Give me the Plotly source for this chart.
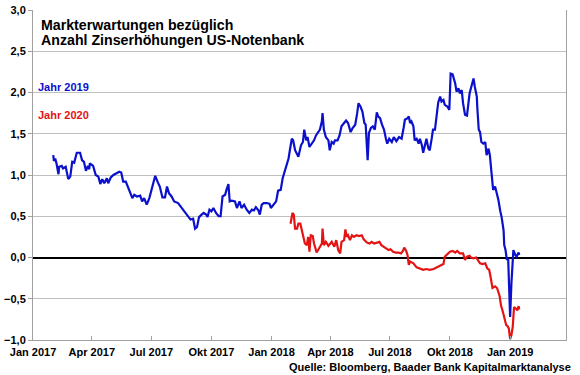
import plotly.graph_objects as go

# ---- data ----
dates_2019 = [
    "2017-02-01", "2017-02-02", "2017-02-04", "2017-02-06", "2017-02-09", "2017-02-10", "2017-02-14", "2017-02-16",
    "2017-02-20", "2017-02-24", "2017-02-27", "2017-03-02", "2017-03-05", "2017-03-09", "2017-03-14", "2017-03-17",
    "2017-03-20", "2017-03-23", "2017-03-26", "2017-03-28", "2017-03-29", "2017-04-03", "2017-04-07", "2017-04-11",
    "2017-04-14", "2017-04-17", "2017-04-20", "2017-04-24", "2017-04-26", "2017-04-30", "2017-05-04", "2017-05-08",
    "2017-05-13", "2017-05-16", "2017-05-19", "2017-05-23", "2017-05-26", "2017-05-31", "2017-06-02", "2017-06-05",
    "2017-06-09", "2017-06-14", "2017-06-17", "2017-06-20", "2017-06-24", "2017-06-28", "2017-07-01", "2017-07-04",
    "2017-07-07", "2017-07-11", "2017-07-14", "2017-07-18", "2017-07-22", "2017-07-25", "2017-07-28", "2017-08-01",
    "2017-08-05", "2017-08-11", "2017-08-17", "2017-08-22", "2017-08-27", "2017-08-30", "2017-09-03", "2017-09-06",
    "2017-09-09", "2017-09-12", "2017-09-16", "2017-09-19", "2017-09-23", "2017-09-25", "2017-09-28", "2017-10-01",
    "2017-10-04", "2017-10-08", "2017-10-12", "2017-10-15", "2017-10-18", "2017-10-22", "2017-10-24", "2017-10-27",
    "2017-10-29", "2017-11-01", "2017-11-06", "2017-11-09", "2017-11-13", "2017-11-16", "2017-11-20", "2017-11-24",
    "2017-11-28", "2017-12-02", "2017-12-05", "2017-12-08", "2017-12-12", "2017-12-14", "2017-12-17", "2017-12-20",
    "2017-12-25", "2017-12-29", "2017-12-31", "2018-01-04", "2018-01-08", "2018-01-11", "2018-01-15", "2018-01-18",
    "2018-01-22", "2018-01-24", "2018-01-27", "2018-01-29", "2018-02-01", "2018-02-03", "2018-02-06", "2018-02-11",
    "2018-02-15", "2018-02-18", "2018-02-20", "2018-02-23", "2018-02-25", "2018-02-28", "2018-03-03", "2018-03-07",
    "2018-03-10", "2018-03-14", "2018-03-16", "2018-03-19", "2018-03-20", "2018-03-22", "2018-03-25", "2018-03-29",
    "2018-03-31", "2018-04-03", "2018-04-06", "2018-04-08", "2018-04-12", "2018-04-15", "2018-04-18", "2018-04-22",
    "2018-04-25", "2018-04-28", "2018-05-02", "2018-05-05", "2018-05-09", "2018-05-12", "2018-05-14", "2018-05-17",
    "2018-05-20", "2018-05-23", "2018-05-25", "2018-05-28", "2018-05-30", "2018-06-02", "2018-06-05", "2018-06-08",
    "2018-06-11", "2018-06-13", "2018-06-16", "2018-06-19", "2018-06-22", "2018-06-25", "2018-06-27", "2018-06-30",
    "2018-07-04", "2018-07-07", "2018-07-11", "2018-07-15", "2018-07-19", "2018-07-22", "2018-07-24", "2018-07-28",
    "2018-07-30", "2018-08-01", "2018-08-03", "2018-08-06", "2018-08-08", "2018-08-11", "2018-08-14", "2018-08-16",
    "2018-08-19", "2018-08-21", "2018-08-24", "2018-08-26", "2018-08-29", "2018-08-31", "2018-09-03", "2018-09-05",
    "2018-09-08", "2018-09-11", "2018-09-13", "2018-09-16", "2018-09-18", "2018-09-21", "2018-09-23", "2018-09-27",
    "2018-09-30", "2018-10-02", "2018-10-05", "2018-10-09", "2018-10-11", "2018-10-14", "2018-10-16", "2018-10-19",
    "2018-10-21", "2018-10-24", "2018-10-27", "2018-10-31", "2018-11-03", "2018-11-06", "2018-11-08", "2018-11-11",
    "2018-11-12", "2018-11-14", "2018-11-16", "2018-11-18", "2018-11-21", "2018-11-24", "2018-11-26", "2018-11-29",
    "2018-12-01", "2018-12-04", "2018-12-05", "2018-12-06", "2018-12-09", "2018-12-12", "2018-12-14", "2018-12-17",
    "2018-12-19", "2018-12-22", "2018-12-23", "2018-12-25", "2018-12-27", "2018-12-29", "2019-01-01", "2019-01-03",
    "2019-01-04", "2019-01-06", "2019-01-09", "2019-01-11", "2019-01-14", "2019-01-15",
]
values_2019 = [
    1.24, 1.17, 1.20, 1.14, 1.01, 1.10, 1.11, 1.08,
    1.10, 0.95, 0.98, 1.16, 1.15, 1.27, 1.27, 1.18,
    1.16, 1.05, 1.11, 1.07, 1.14, 1.11, 1.00, 0.98,
    0.89, 0.95, 0.90, 0.96, 0.90, 0.97, 1.00, 1.02,
    1.04, 1.03, 0.92, 0.92, 0.86, 0.78, 0.72, 0.76,
    0.74, 0.75, 0.68, 0.72, 0.64, 0.72, 0.82, 0.90,
    0.99, 0.91, 0.86, 0.73, 0.73, 0.86, 0.78, 0.74,
    0.68, 0.66, 0.60, 0.54, 0.49, 0.46, 0.47, 0.35,
    0.37, 0.49, 0.52, 0.54, 0.52, 0.49, 0.58, 0.56,
    0.60, 0.54, 0.50, 0.50, 0.74, 0.76, 0.82, 0.89,
    0.68, 0.69, 0.68, 0.60, 0.68, 0.60, 0.64, 0.58,
    0.54, 0.58, 0.57, 0.61, 0.57, 0.52, 0.64, 0.66,
    0.66, 0.65, 0.60, 0.64, 0.68, 0.81, 0.82, 0.96,
    1.07, 1.12, 1.20, 1.30, 1.44, 1.42, 1.30, 1.22,
    1.36, 1.40, 1.55, 1.42, 1.46, 1.34, 1.38, 1.42,
    1.48, 1.52, 1.55, 1.65, 1.75, 1.55, 1.46, 1.42,
    1.30, 1.40, 1.38, 1.42, 1.42, 1.48, 1.59, 1.63,
    1.66, 1.63, 1.52, 1.57, 1.61, 1.75, 1.87, 1.83,
    1.77, 1.63, 1.61, 1.18, 1.51, 1.57, 1.59, 1.55,
    1.76, 1.71, 1.69, 1.61, 1.55, 1.44, 1.38, 1.44,
    1.40, 1.46, 1.41, 1.46, 1.44, 1.57, 1.67, 1.69,
    1.71, 1.63, 1.65, 1.59, 1.42, 1.44, 1.38, 1.44,
    1.36, 1.27, 1.38, 1.44, 1.32, 1.30, 1.44, 1.55,
    1.55, 1.79, 1.88, 1.95, 1.89, 1.91, 1.85, 1.83,
    1.79, 2.23, 2.22, 2.11, 2.01, 2.05, 1.99, 2.03,
    1.87, 1.73, 1.72, 1.99, 2.09, 2.17, 2.07, 1.95,
    1.79, 1.55, 1.52, 1.40, 1.38, 1.40, 1.24, 1.32,
    1.24, 1.02, 0.90, 0.82, 0.86, 0.76, 0.70, 0.56,
    0.49, 0.33, 0.15, 0.09, -0.03, -0.01, -0.72, -0.31,
    -0.11, 0.09, 0.03, 0.01, 0.06, 0.03,
]

dates_2020 = [
    "2018-01-30", "2018-02-02", "2018-02-04", "2018-02-06", "2018-02-09", "2018-02-11", "2018-02-14", "2018-02-18",
    "2018-02-21", "2018-02-24", "2018-02-26", "2018-02-28", "2018-03-02", "2018-03-05", "2018-03-07", "2018-03-11",
    "2018-03-15", "2018-03-19", "2018-03-20", "2018-03-22", "2018-03-25", "2018-03-29", "2018-04-03", "2018-04-07",
    "2018-04-10", "2018-04-13", "2018-04-16", "2018-04-18", "2018-04-22", "2018-04-24", "2018-04-26", "2018-04-28",
    "2018-05-01", "2018-05-04", "2018-05-07", "2018-05-11", "2018-05-15", "2018-05-19", "2018-05-22", "2018-05-27",
    "2018-05-31", "2018-06-03", "2018-06-07", "2018-06-11", "2018-06-15", "2018-06-18", "2018-06-22", "2018-06-25",
    "2018-06-29", "2018-07-02", "2018-07-06", "2018-07-10", "2018-07-14", "2018-07-18", "2018-07-21", "2018-07-23",
    "2018-07-26", "2018-07-28", "2018-07-30", "2018-08-01", "2018-08-06", "2018-08-11", "2018-08-16", "2018-08-21",
    "2018-08-26", "2018-08-31", "2018-09-06", "2018-09-11", "2018-09-16", "2018-09-21", "2018-09-23", "2018-09-26",
    "2018-10-01", "2018-10-05", "2018-10-09", "2018-10-12", "2018-10-16", "2018-10-21", "2018-10-24", "2018-10-27",
    "2018-10-31", "2018-11-02", "2018-11-06", "2018-11-10", "2018-11-13", "2018-11-16", "2018-11-20", "2018-11-24",
    "2018-11-27", "2018-11-30", "2018-12-02", "2018-12-05", "2018-12-09", "2018-12-12", "2018-12-16", "2018-12-18",
    "2018-12-21", "2018-12-23", "2018-12-26", "2018-12-28", "2018-12-30", "2019-01-01", "2019-01-03", "2019-01-05",
    "2019-01-07", "2019-01-10", "2019-01-12", "2019-01-14", "2019-01-15",
]
values_2020 = [
    0.41, 0.54, 0.52, 0.35, 0.35, 0.41, 0.41, 0.27,
    0.17, 0.15, 0.25, 0.07, 0.27, 0.26, 0.17, 0.06,
    0.11, 0.17, 0.35, 0.15, 0.19, 0.14, 0.19, 0.13,
    0.21, 0.09, 0.05, 0.19, 0.21, 0.34, 0.25, 0.27,
    0.21, 0.27, 0.25, 0.27, 0.26, 0.27, 0.22, 0.18,
    0.17, 0.19, 0.17, 0.18, 0.19, 0.15, 0.13, 0.12,
    0.09, 0.10, 0.07, 0.06, 0.06, 0.05, 0.08, 0.12,
    0.08, 0.03, -0.09, -0.05, -0.07, -0.12, -0.14, -0.15,
    -0.14, -0.15, -0.14, -0.12, -0.10, -0.08, 0.01, 0.03,
    0.07, 0.08, 0.06, 0.08, 0.05, 0.05, -0.03, 0.01,
    0.02, 0.00, -0.01, 0.00, -0.03, -0.07, -0.08, -0.07,
    -0.13, -0.15, -0.23, -0.37, -0.35, -0.37, -0.47, -0.58,
    -0.66, -0.72, -0.82, -0.83, -0.86, -0.99, -0.94, -0.84,
    -0.60, -0.62, -0.64, -0.59, -0.63,
]

tick_dates = ["2017-01-01", "2017-04-01", "2017-07-01", "2017-10-01", "2018-01-01",
              "2018-04-01", "2018-07-01", "2018-10-01", "2019-01-01"]
tick_labels = ["Jan 2017", "Apr 2017", "Jul 2017", "Okt 2017", "Jan 2018",
               "Apr 2018", "Jul 2018", "Okt 2018", "Jan 2019"]

title_lines = ["Markterwartungen bezüglich", "Anzahl Zinserhöhungen US-Notenbank"]
label_2019 = "Jahr 2019"
label_2020 = "Jahr 2020"
source_text = "Quelle: Bloomberg, Baader Bank Kapitalmarktanalyse"

BLUE = "#0a10cc"
RED = "#e41414"
FONT = "Arial, 'Liberation Sans', sans-serif"

fig = go.Figure()
fig.add_trace(go.Scatter(x=dates_2019, y=values_2019, mode="lines",
                         line=dict(color=BLUE, width=2.2), name=label_2019))
fig.add_trace(go.Scatter(x=dates_2020, y=values_2020, mode="lines",
                         line=dict(color=RED, width=2.2), name=label_2020))

fig.update_layout(
    width=580, height=375,
    margin=dict(l=33, r=14, t=10, b=35, autoexpand=False),
    paper_bgcolor="white", plot_bgcolor="white",
    showlegend=False,
    separators=",.",
    font=dict(family=FONT, size=11, color="black"),
)
fig.update_xaxes(
    type="date", automargin=False,
    range=["2017-01-01", "2019-03-27 12:00"],
    tickmode="array", tickvals=tick_dates, ticktext=tick_labels,
    tickfont=dict(family=FONT, size=11, color="black", weight="bold"),
    ticks="inside", ticklen=4, tickcolor="#a0a0a0", ticklabelstandoff=2,
    showgrid=False, showline=True, linecolor="#a0a0a0", linewidth=1,
    mirror=False, zeroline=False,
)
fig.update_yaxes(
    automargin=False,
    range=[-1, 3], dtick=0.5, tick0=-1, tickformat=".1f",
    tickfont=dict(family=FONT, size=11, color="black", weight="bold"),
    ticks="outside", ticklen=4, tickcolor="#a0a0a0",
    showgrid=True, gridcolor="#c0c0c0", gridwidth=1,
    showline=True, linecolor="#a0a0a0", linewidth=1, mirror=True,
    zeroline=True, zerolinecolor="black", zerolinewidth=2,
)

for line_text, ypos in zip(title_lines, [0.956, 0.910]):
    fig.add_annotation(text="<b>" + line_text + "</b>", xref="paper", yref="paper",
                       x=0.0107, y=ypos, xanchor="left", yanchor="middle", align="left",
                       showarrow=False, font=dict(family=FONT, size=14.2, color="black"))
fig.add_annotation(text="<b>" + label_2019 + "</b>", xref="paper", yref="paper",
                   x=0.006, y=0.768, xanchor="left", yanchor="middle",
                   showarrow=False, font=dict(family=FONT, size=11, color=BLUE))
fig.add_annotation(text="<b>" + label_2020 + "</b>", xref="paper", yref="paper",
                   x=0.006, y=0.683, xanchor="left", yanchor="middle",
                   showarrow=False, font=dict(family=FONT, size=11, color=RED))
fig.add_annotation(text="<b>" + source_text + "</b>", xref="paper", yref="paper",
                   x=1.013, y=-0.082, xanchor="right", yanchor="middle",
                   showarrow=False, font=dict(family=FONT, size=11, color="black"))

fig.write_html("out.html", config={"displayModeBar": False},
               post_script="document.body.style.margin='0';document.body.style.overflow='hidden';")
